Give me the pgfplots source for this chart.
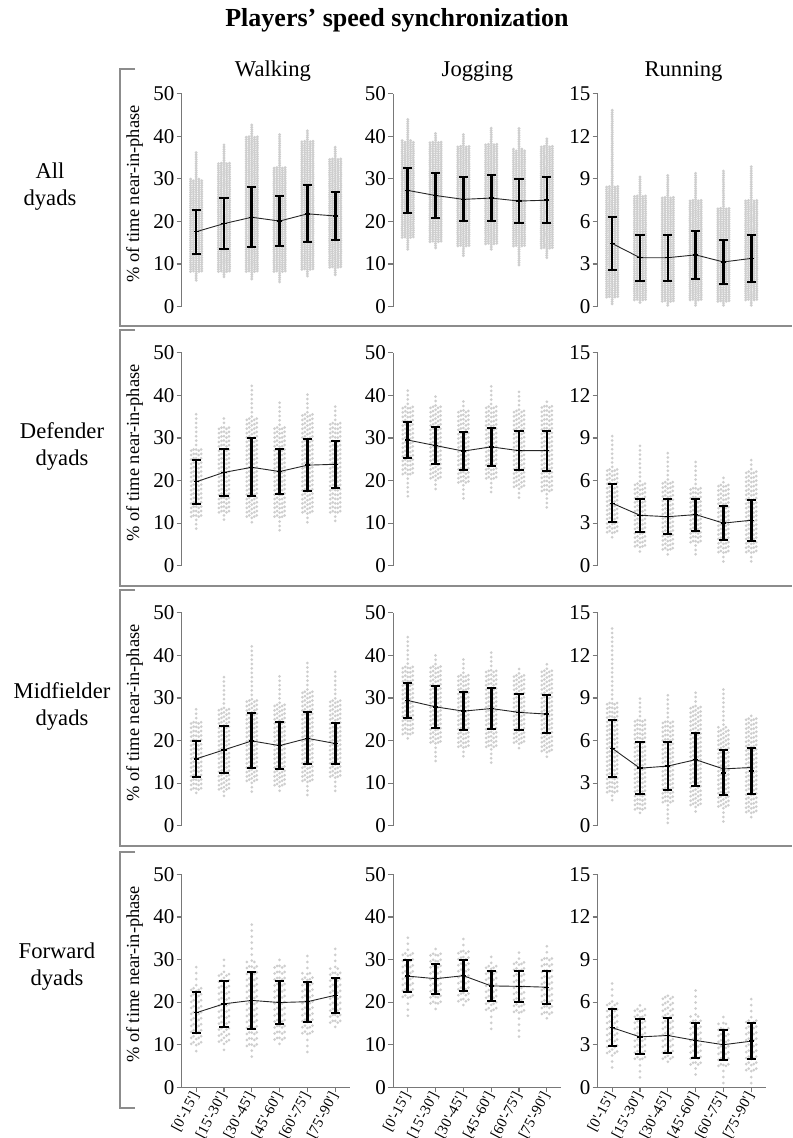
\documentclass[border=0pt]{standalone}
\usepackage{fontspec}
\setmainfont{Liberation Serif}
\newfontfamily\plainserif{Liberation Serif}
\usepackage{pgfplots}
\usepackage{pgfplotstable}
\pgfplotsset{compat=1.18}
\definecolor{cloud}{RGB}{206,206,206}
\definecolor{framegray}{RGB}{140,140,140}
\definecolor{axisgray}{RGB}{120,120,120}

% columns: x, mean (bar centre), sd, line value, min, core low, core high, max
\pgfplotstableread{
x m sd ln mn lo hi mx
0 17.6 5.2 17.6 6.2 8 30 36.5
1 19.5 6.0 19.5 7.0 8 34 38.5
2 21.0 7.0 21.0 6.5 8 40 42.8
3 20.1 5.9 20.1 5.8 8 33 40.5
4 21.8 6.7 21.8 7.2 8.5 39 41.8
5 21.3 5.6 21.3 7.5 9 35 37.8
}\RoneW
\pgfplotstableread{
x m sd ln mn lo hi mx
0 27.3 5.2 27.3 13.5 16 39 44.3
1 26.1 5.25 26.1 13.8 15 39 40.8
2 25.2 5.15 25.2 12.0 14 38 40.5
3 25.5 5.4 25.5 13.5 14.5 38.5 42.3
4 24.8 5.25 24.8 9.8 14 37 42.0
5 25.0 5.35 25.0 11.5 13.5 38 39.8
}\RoneJ
\pgfplotstableread{
x m sd ln mn lo hi mx
0 4.45 1.85 4.45 0.2 0.6 8.5 13.9
1 3.45 1.63 3.45 0.3 0.4 7.8 9.2
2 3.45 1.63 3.45 0.1 0.3 7.8 9.3
3 3.65 1.68 3.65 0.1 0.4 7.5 9.4
4 3.15 1.55 3.15 0.1 0.3 7.0 9.6
5 3.4 1.68 3.4 0.1 0.4 7.5 9.9
}\RoneR
\pgfplotstableread{
x m sd ln mn lo hi mx
0 19.7 5.1 19.7 8.7 11 28 36.5
1 21.9 5.5 21.9 10.8 12 33 35.3
2 23.1 6.8 23.1 10.2 11 35 42.8
3 22.1 5.35 22.1 8.3 11 33 38.5
4 23.6 6.15 23.6 10.2 12 36 41.0
5 23.8 5.5 23.8 10.5 12 34 37.8
}\RtwoW
\pgfplotstableread{
x m sd ln mn lo hi mx
0 29.5 4.3 29.5 16.3 21 38 41.7
1 28.2 4.3 28.2 18.0 20 38 40.0
2 26.9 4.45 26.9 15.8 19 37 38.7
3 27.9 4.5 27.9 17.3 20 38 42.3
4 27.0 4.55 27.0 16.0 18 37 40.8
5 27.0 4.7 27.0 13.7 17 38 39.2
}\RtwoJ
\pgfplotstableread{
x m sd ln mn lo hi mx
0 4.4 1.33 4.4 2.0 2.2 7.0 9.4
1 3.55 1.18 3.55 1.0 1.2 6.0 8.5
2 3.45 1.25 3.45 0.8 1.0 6.0 8.2
3 3.6 1.13 3.6 0.8 1.5 5.5 7.4
4 3.0 1.18 3.0 0.3 0.8 5.8 6.2
5 3.2 1.45 3.2 0.3 0.8 6.8 7.6
}\RtwoR
\pgfplotstableread{
x m sd ln mn lo hi mx
0 15.7 4.15 15.7 7.7 8 25 27.5
1 17.8 5.5 17.8 7.0 8 28 35.8
2 19.9 6.45 19.9 8.0 10 30 42.2
3 18.8 5.6 18.8 8.2 9 29 35.5
4 20.5 6.1 20.5 7.2 10 32 38.7
5 19.3 4.85 19.3 8.2 11 30 36.8
}\RthreeW
\pgfplotstableread{
x m sd ln mn lo hi mx
0 29.4 4.2 29.4 20.5 21 38 44.3
1 27.9 5.0 27.9 15.2 19 38 40.5
2 26.9 4.55 26.9 16.3 18 36 40.0
3 27.5 4.75 27.5 14.8 18 37 41.5
4 26.6 4.2 26.6 18.2 19 36 37.5
5 26.2 4.5 26.2 16.2 17 37 38.5
}\RthreeJ
\pgfplotstableread{
x m sd ln mn lo hi mx
0 5.45 2.0 5.45 1.8 2.2 8.7 13.9
1 4.05 1.85 4.05 0.9 1.0 7.5 9.2
2 4.2 1.7 4.2 0.2 1.5 7.5 9.3
3 4.65 1.85 4.65 1.0 1.3 8.5 9.4
4 3.72 1.58 4.0 0.3 1.2 7.0 9.6
5 3.85 1.6 4.1 0.6 0.8 7.6 7.8
}\RthreeR
\pgfplotstableread{
x m sd ln mn lo hi mx
0 17.5 4.85 17.5 8.5 9.5 23.5 28.8
1 19.6 5.45 19.6 8.8 10 27 30.2
2 20.4 6.6 20.4 7.2 9 29.5 38.8
3 19.9 5.1 19.9 10.2 10.5 28.5 30.3
4 20.1 4.7 20.1 8.3 12 27 32.2
5 21.6 4.15 21.6 14.2 14.5 28 33.8
}\RfourW
\pgfplotstableread{
x m sd ln mn lo hi mx
0 26.1 3.7 26.1 16.8 20.5 32 35.2
1 25.5 3.55 25.5 18.4 19 32 33.0
2 26.2 3.6 26.2 19.3 19.5 32 35.7
3 23.8 3.6 23.8 13.7 17.5 29 31.8
4 23.7 3.65 23.7 11.9 17 29.5 31.7
5 23.5 3.85 23.5 16.2 16.5 31 33.2
}\RfourJ
\pgfplotstableread{
x m sd ln mn lo hi mx
0 4.2 1.3 4.2 1.4 2.2 6.0 7.7
1 3.55 1.23 3.55 0.7 1.8 5.8 6.1
2 3.65 1.2 3.65 1.8 1.8 6.4 6.5
3 3.3 1.23 3.3 0.9 1.4 5.0 7.0
4 3.0 1.05 3.0 0.3 1.3 4.5 5.2
5 3.25 1.28 3.25 0.3 1.0 5.0 6.5
}\RfourR

\pgfplotsset{
  panel/.style={
    scale only axis, width=84pt, height=106.5pt, anchor=south west,
    xmin=-0.52, xmax=5.52, ymin=0,
    axis lines*=left,
    axis line style={axisgray, line width=0.6pt},
    tick style={axisgray, line width=0.6pt},
    tick align=outside, major tick length=2.5pt,
    yticklabel style={font=\fontsize{10.5}{12}\selectfont, inner xsep=1pt},
    /pgf/number format/assume math mode=true,
    clip=false,
  },
  toprow/.style={xtick=\empty, x axis line style={draw=none}},
  bottomrow/.style={
    xtick={0,...,5},
    xticklabels={{[0'-15']},{[15'-30']},{[30'-45']},{[45'-60']},{[60'-75']},{[75'-90']}},
    xticklabel style={rotate=62, anchor=east, inner sep=0.5pt, font=\plainserif\fontsize{7.4}{8}\selectfont},
  },
  ylab/.style={
    ylabel={\% of time near-in-phase},
    ylabel style={at={(axis description cs:-0.28,0.53)}, anchor=center, font=\fontsize{9.2}{10}\selectfont},
  },
}

\newcommand{\cloudcol}[6]{%
  \addplot[draw=none, mark=none, forget plot,
    error bars/.cd, y dir=plus, y explicit, error mark=none,
    error bar style={draw=cloud, line width=\cdot, line cap=round, dash pattern=on 0pt off #5, dash phase=#6}]
    table[x expr=\thisrow{x}+(#2), y=#3, y error expr=\thisrow{#4}-\thisrow{#3}] {#1};
}

\newcommand{\panel}[6]{%
\begin{axis}[panel, at={(#1,#2)}, ymax=#4, ytick={#5}, #6]
  \cloudcol{#3}{0}{mn}{mx}{\csp}{0pt}
  \cloudcol{#3}{\coff}{lo}{hi}{\csp}{\cphA}
  \cloudcol{#3}{-\coff}{lo}{hi}{\csp}{\cphB}
  \cloudcol{#3}{2*\coff}{lo}{hi}{\csp}{\cphB}
  \cloudcol{#3}{-2*\coff}{lo}{hi}{\csp}{\cphA}
  \addplot[black!85, line width=0.45pt, mark=none, forget plot] table[x=x, y=ln] {#3};
  \addplot[black, only marks, mark=-, mark size=1.3pt, mark options={line width=0.7pt}, forget plot,
    error bars/.cd, y dir=both, y explicit,
    error bar style={line width=1.3pt, black},
    error mark options={rotate=90, line width=1pt, mark size=2.3pt, black}]
    table[x=x, y=m, y error=sd] {#3};
\end{axis}}

\begin{document}
\begin{tikzpicture}
\useasboundingbox (0,0) rectangle (396pt,-569pt);

% row 1
\def\cdot{1.6pt}\def\csp{1.1pt}\def\coff{0.1}\def\cphA{0.55pt}\def\cphB{0.3pt}
\panel{90.85pt}{-153.35pt}{\RoneW}{50}{0,10,...,50}{toprow, ylab}
\panel{196.65pt}{-153.35pt}{\RoneJ}{50}{0,10,...,50}{toprow}
\panel{298.85pt}{-153.35pt}{\RoneR}{15}{0,3,...,15}{toprow}
% row 2
\def\cdot{1.5pt}\def\csp{2.2pt}\def\coff{0.09}\def\cphA{1.1pt}\def\cphB{0.5pt}
\panel{90.85pt}{-282.85pt}{\RtwoW}{50}{0,10,...,50}{toprow, ylab}
\panel{196.65pt}{-282.85pt}{\RtwoJ}{50}{0,10,...,50}{toprow}
\panel{298.85pt}{-282.85pt}{\RtwoR}{15}{0,3,...,15}{toprow}
% row 3
\panel{90.85pt}{-412.85pt}{\RthreeW}{50}{0,10,...,50}{toprow, ylab}
\panel{196.65pt}{-412.85pt}{\RthreeJ}{50}{0,10,...,50}{toprow}
\panel{298.85pt}{-412.85pt}{\RthreeR}{15}{0,3,...,15}{toprow}
% row 4
\def\cdot{1.5pt}\def\csp{3pt}\def\coff{0.09}\def\cphA{1.5pt}\def\cphB{0.7pt}
\panel{90.85pt}{-543.65pt}{\RfourW}{50}{0,10,...,50}{bottomrow, ylab}
\panel{196.65pt}{-543.65pt}{\RfourJ}{50}{0,10,...,50}{bottomrow}
\panel{298.85pt}{-543.65pt}{\RfourR}{15}{0,3,...,15}{bottomrow}

% frames
\begin{scope}[draw=framegray, line width=0.6pt]
\draw (67.5pt,-34.5pt) -- (60pt,-34.5pt) -- (60pt,-163pt) -- (396pt,-163pt);
\draw (67.5pt,-165pt) -- (60pt,-165pt) -- (60pt,-293pt) -- (396pt,-293pt);
\draw (67.5pt,-295pt) -- (60pt,-295pt) -- (60pt,-423pt) -- (396pt,-423pt);
\draw (67.5pt,-426pt) -- (60pt,-426pt) -- (60pt,-554pt) -- (67.5pt,-554pt);
\end{scope}

% title and headers
\node[anchor=base, font=\bfseries\fontsize{13}{15}\selectfont] at (198.5pt,-13.5pt) {Players’ speed synchronization};
\node[anchor=base, font=\fontsize{11.3}{13}\selectfont] at (136.5pt,-38.35pt) {Walking};
\node[anchor=base, font=\fontsize{11.3}{13}\selectfont] at (238.75pt,-38.35pt) {Jogging};
\node[anchor=base, font=\fontsize{11.3}{13}\selectfont] at (341.75pt,-38.35pt) {Running};

% row labels
\node[align=center, font=\fontsize{11.3}{13.5}\selectfont] at (25pt,-93.25pt) {All\\dyads};
\node[align=center, font=\fontsize{11.3}{13.5}\selectfont] at (31pt,-223.25pt) {Defender\\dyads};
\node[align=center, font=\fontsize{11.3}{13.5}\selectfont] at (31pt,-353pt) {Midfielder\\dyads};
\node[align=center, font=\fontsize{11.3}{13.5}\selectfont] at (28.5pt,-483.25pt) {Forward\\dyads};
\end{tikzpicture}
\end{document}
